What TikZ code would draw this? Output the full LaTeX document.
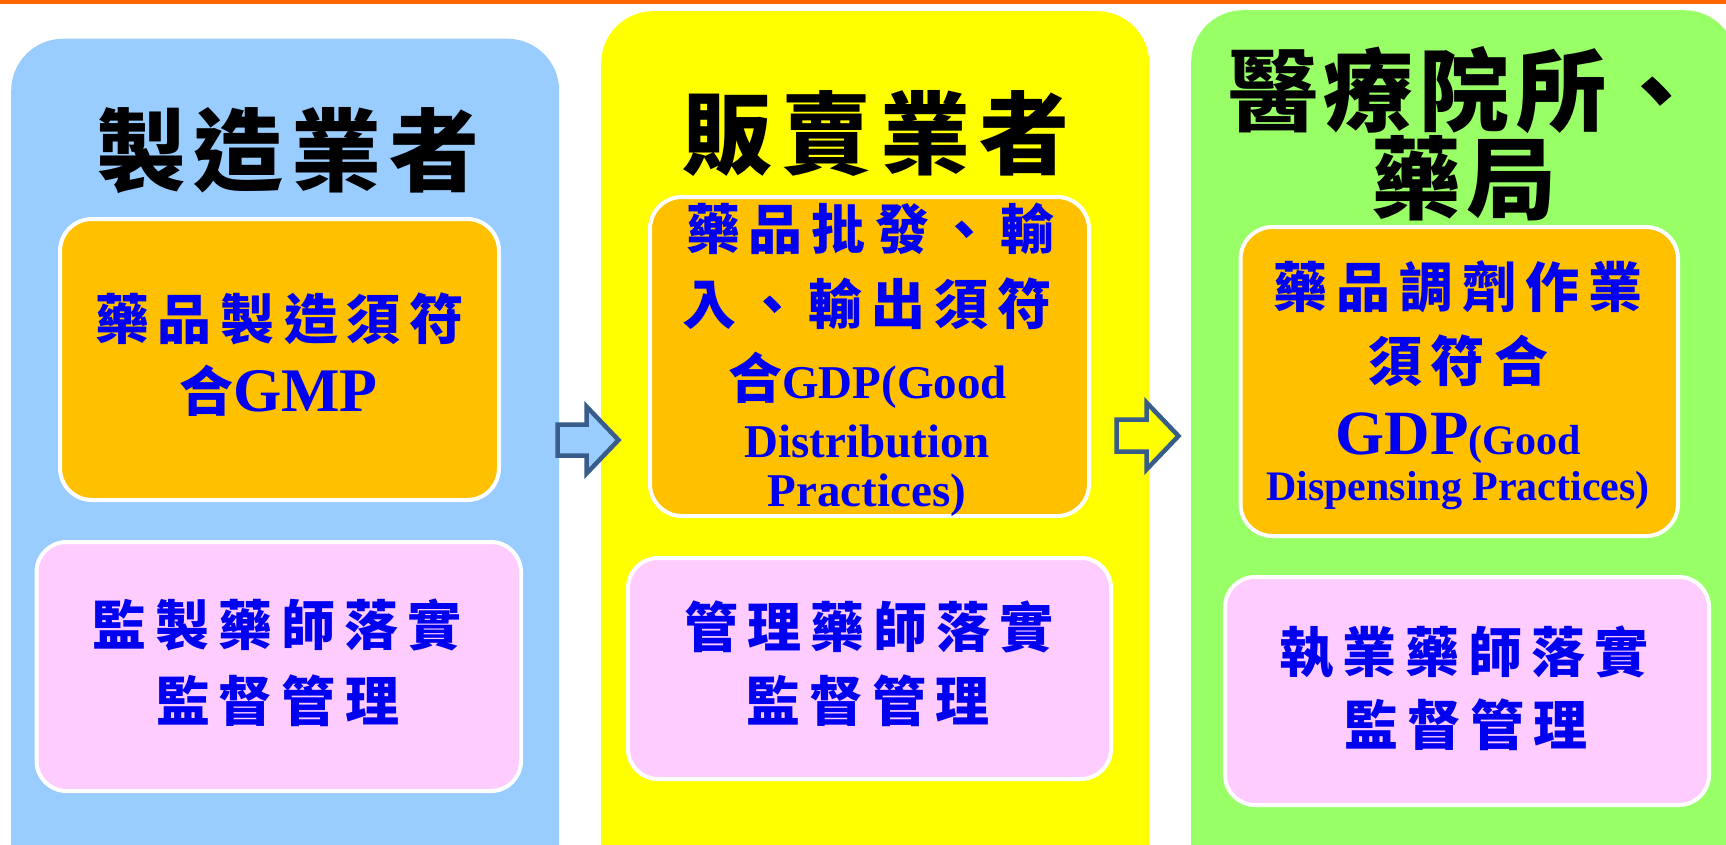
\documentclass[tikz,border=0pt]{standalone}
\usepackage{fontspec}
\setmainfont{Liberation Serif}
\newfontfamily\cjk{Noto Sans CJK TC}
\definecolor{toporange}{HTML}{FF6600}
\definecolor{panelblue}{HTML}{99CCFF}
\definecolor{panelyellow}{HTML}{FFFF00}
\definecolor{panelgreen}{HTML}{99FF66}
\definecolor{boxorange}{HTML}{FFC000}
\definecolor{boxpink}{HTML}{FFCCFF}
\definecolor{txtblue}{HTML}{0000F0}
\definecolor{arrowline}{HTML}{385D8A}
\newcommand\spgap{0pt}
\newcommand\spaced[2]{\renewcommand\spgap{#1}\spacedaux#2\relax}
\def\spacedaux#1#2{#1\ifx\relax#2\else\hspace{\spgap}\expandafter\spacedaux\expandafter#2\fi}
\tikzset{
  panel/.style={rounded corners=52pt, inner sep=0pt, anchor=north west},
  obox/.style={fill=boxorange, draw=white, line width=4pt, rounded corners=32pt, inner sep=0pt, anchor=north west},
  pbox/.style={fill=boxpink, draw=white, line width=4pt, rounded corners=30pt, inner sep=0pt, anchor=north west},
  ttl/.style={anchor=base, inner sep=0pt, text=black, font=\cjk\bfseries\fontsize{90}{96}\selectfont},
  btxt/.style={anchor=base, inner sep=0pt, text=txtblue, font=\cjk\bfseries\fontsize{54}{60}\selectfont},
  blockarrow/.style={draw=arrowline, line width=4.5pt, miter limit=10}
}
\begin{document}
\begin{tikzpicture}[x=1pt,y=-1pt]
\useasboundingbox (0,0) rectangle (1726,844);
\clip (0,0) rectangle (1726,844);
\fill[white] (0,0) rectangle (1726,844);
\fill[toporange] (0,0) rectangle (1726,3.5);
% panels
\node[panel, fill=panelblue, minimum width=548pt, minimum height=870pt] (p1) at (11,38.5) {};
\node[panel, fill=panelyellow, minimum width=548pt, minimum height=900pt] (p2) at (601,11) {};
\node[panel, fill=panelgreen, minimum width=545pt, minimum height=900pt] (p3) at (1191,10) {};
% titles
\node[ttl] (t1) at (288,184) {\spaced{8pt}{製造業者}};
\node[ttl] (t2) at (875.5,167) {\spaced{9pt}{販賣業者}};
\node[ttl] (t3a) at (1465,124) {\spaced{6pt}{醫療院所、}};
\node[ttl] (t3b) at (1464,212) {\spaced{6pt}{藥局}};
% orange boxes
\node[obox, minimum width=439pt, minimum height=281pt] (o1) at (58,217) {};
\node[obox, minimum width=439pt, minimum height=319pt] (o2) at (648,195) {};
\node[obox, minimum width=437.5pt, minimum height=309pt] (o3) at (1238.5,225) {};
% pink boxes
\node[pbox, minimum width=484.5pt, minimum height=249pt] (q1) at (34.5,540) {};
\node[pbox, minimum width=483pt, minimum height=221pt] (q2) at (626,556) {};
\node[pbox, minimum width=484pt, minimum height=228pt] (q3) at (1223,575) {};
% box 1 texts
\node[btxt] (o1a) at (279.5,339.5) {\spaced{9pt}{藥品製造須符}};
\node[btxt] (o1b) at (278.5,411.7) {合{\rmfamily\bfseries\fontsize{62}{62}\selectfont GMP}};
\node[btxt] (q1a) at (277,645.5) {\spaced{9pt}{監製藥師落實}};
\node[btxt] (q1b) at (277.5,721.5) {\spaced{9pt}{監督管理}};
% box 2 texts
\node[btxt] (o2a) at (870.5,249.5) {\spaced{9pt}{藥品批發、輸}};
\node[btxt] (o2b) at (867,324.5) {\spaced{9pt}{入、輸出須符}};
\node[btxt] (o2c) at (867.5,398) {合{\rmfamily\bfseries\fontsize{47}{47}\selectfont GDP(Good}};
\node[btxt] (o2d) at (867,457) {{\rmfamily\bfseries\fontsize{47}{47}\selectfont Distribution}};
\node[btxt] (o2e) at (867,506) {{\rmfamily\bfseries\fontsize{47}{47}\selectfont Practices)}};
\node[btxt] (q2a) at (869,647.5) {\spaced{9pt}{管理藥師落實}};
\node[btxt] (q2b) at (868,721.5) {\spaced{9pt}{監督管理}};
% box 3 texts
\node[btxt] (o3a) at (1458,307.5) {\spaced{9pt}{藥品調劑作業}};
\node[btxt] (o3b) at (1458,381.5) {\spaced{9pt}{須符合}};
\node[btxt] (o3c) at (1458,454) {{\rmfamily\bfseries\fontsize{63}{63}\selectfont GDP}{\rmfamily\bfseries\fontsize{42}{42}\selectfont(Good}};
\node[btxt] (o3d) at (1458,500) {{\rmfamily\bfseries\fontsize{42}{42}\selectfont Dispensing Practices)}};
\node[btxt] (q3a) at (1464,672.5) {\spaced{9pt}{執業藥師落實}};
\node[btxt] (q3b) at (1466,745.5) {\spaced{9pt}{監督管理}};
% block arrows
\draw[blockarrow, fill=panelblue] (557.5,424.5) -- (586.5,424.5) -- (586.5,406.5) -- (618.5,440) -- (586.5,473.5) -- (586.5,455.5) -- (557.5,455.5) -- cycle;
\draw[blockarrow, fill=panelyellow] (1116.5,419.5) -- (1146.5,419.5) -- (1146.5,402.5) -- (1178.5,436) -- (1146.5,469.5) -- (1146.5,451.5) -- (1116.5,451.5) -- cycle;
\end{tikzpicture}
\end{document}
